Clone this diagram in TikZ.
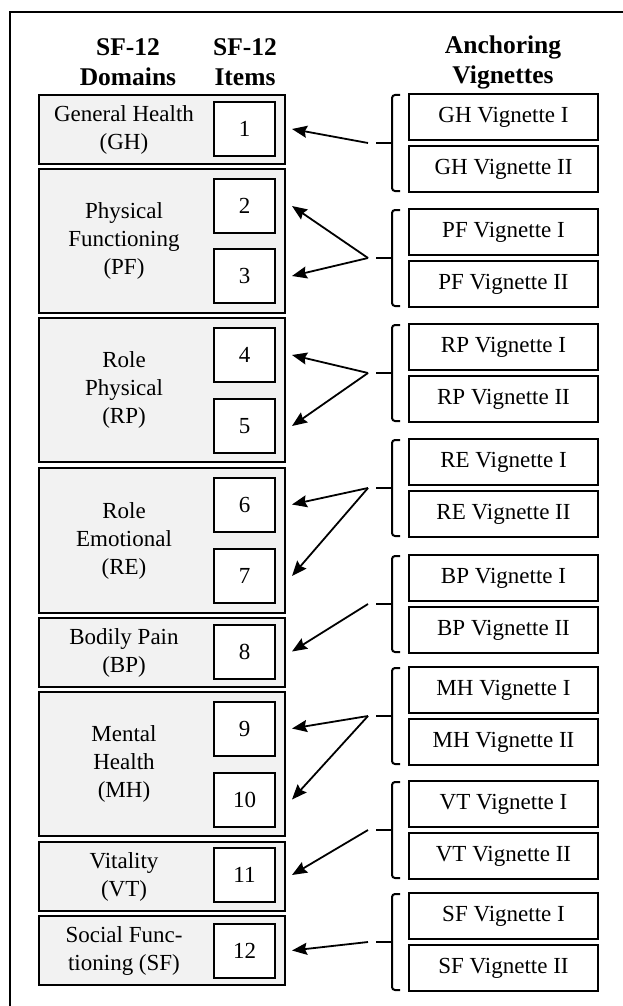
\documentclass[tikz,border=0pt]{standalone}
\usepackage{fontspec}
\setmainfont{Liberation Serif}
\usetikzlibrary{arrows.meta}
\definecolor{domfill}{HTML}{F2F2F2}
\begin{document}
\begin{tikzpicture}[x=1pt,y=-1pt,
  txt/.style={font=\fontsize{23}{28}\selectfont,align=center,inner sep=0},
  hdr/.style={font=\fontsize{25.5}{30}\selectfont\bfseries,align=center,inner sep=0},
  dombox/.style={draw,line width=2pt,fill=domfill,minimum width=246,inner sep=0},
  itembox/.style={txt,draw,line width=2pt,fill=white,minimum width=61,minimum height=54},
  vigbox/.style={txt,draw,line width=2pt,minimum width=189,minimum height=46},
  brace/.style={line width=2pt,rounded corners=3pt},
  arr/.style={line width=1.8pt,-{Stealth[length=15pt,width=12pt,inset=2pt]}}]
\useasboundingbox (0,0) rectangle (622,1006);
\draw[line width=2pt] (10,1010) -- (10,12) -- (630,12);
% headers
\node[hdr] (hdom) at (128,62) {SF-12\\Domains};
\node[hdr] (hitem) at (245,62) {SF-12\\Items};
\node[hdr] (hvig) at (503,62) {Anchoring\\Vignettes};
% domains
\foreach \n/\y/\h/\t in {gh/129.5/69/{General Health\\(GH)},
    pf/241/144/{Physical\\Functioning\\(PF)},
    rp/390/144/{Role\\Physical\\(RP)},
    re/540.5/145/{Role\\Emotional\\(RE)},
    bp/652.5/69/{Bodily Pain\\(BP)},
    mh/764/144/{Mental\\Health\\(MH)},
    vt/876.5/69/{Vitality\\(VT)},
    sf/950.5/69/{Social Func-\\tioning (SF)}}{
  \node[dombox,minimum height=\h] (\n) at (162,\y) {};
  \node[txt] (\n txt) at ([xshift=-38]\n.center) {\t};
}
% items
\foreach \i/\y in {1/129,2/206,3/276,4/355,5/426,6/504.5,7/576,8/651.5,9/728.5,10/799.5,11/875,12/950.5}
  \node[itembox] (i\i) at (244.5,\y) {\i};
% vignettes and brackets
\foreach \n/\N/\t in {gh/GH/94,pf/PF/209,rp/RP/324,re/RE/439,bp/BP/555,mh/MH/667,vt/VT/781,sf/SF/893}{
  \node[vigbox] (\n I) at (503.5,\t+23) {\N\ Vignette I};
  \node[vigbox] (\n II) at (503.5,\t+75) {\N\ Vignette II};
  \draw[brace] (400,\t+1) -- (392,\t+1) -- (392,\t+97) -- (400,\t+97);
  \draw[line width=2pt] (392,\t+49) -- (376,\t+49);
  \coordinate (\n tip) at (368,\t+49);
}
% arrows
\draw[arr] (ghtip) -- ([xshift=16]i1.east);
\draw[arr] (pftip) -- ([xshift=16]i2.east);
\draw[arr] (pftip) -- ([xshift=16]i3.east);
\draw[arr] (rptip) -- ([xshift=16]i4.east);
\draw[arr] (rptip) -- ([xshift=16]i5.east);
\draw[arr] (retip) -- ([xshift=16]i6.east);
\draw[arr] (retip) -- ([xshift=16]i7.east);
\draw[arr] (bptip) -- ([xshift=16]i8.east);
\draw[arr] (mhtip) -- ([xshift=16]i9.east);
\draw[arr] (mhtip) -- ([xshift=16]i10.east);
\draw[arr] (vttip) -- ([xshift=16]i11.east);
\draw[arr] (sftip) -- ([xshift=16]i12.east);
\end{tikzpicture}
\end{document}
